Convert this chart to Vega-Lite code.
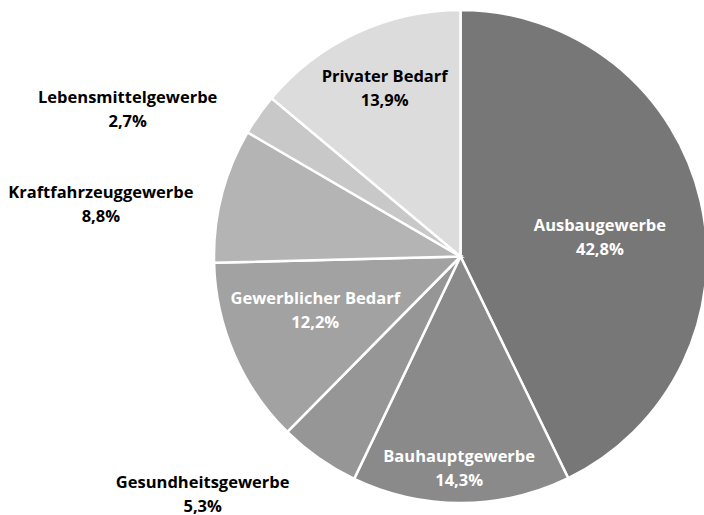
{
  "$schema": "https://vega.github.io/schema/vega-lite/v6.json",
  "width": 493,
  "height": 493,
  "autosize": "none",
  "padding": {"left": 214, "top": 10, "right": 0, "bottom": 12},
  "background": "white",
  "view": {"stroke": null},
  "data": {
    "values": [
      {"category": "Ausbaugewerbe", "value": 42.8, "label": "Ausbaugewerbe\n42,8%"},
      {"category": "Bauhauptgewerbe", "value": 14.3, "label": "Bauhauptgewerbe\n14,3%"},
      {"category": "Gesundheitsgewerbe", "value": 5.3, "label": "Gesundheitsgewerbe\n5,3%"},
      {"category": "Gewerblicher Bedarf", "value": 12.2, "label": "Gewerblicher Bedarf\n12,2%"},
      {"category": "Kraftfahrzeuggewerbe", "value": 8.8, "label": "Kraftfahrzeuggewerbe\n8,8%"},
      {"category": "Lebensmittelgewerbe", "value": 2.7, "label": "Lebensmittelgewerbe\n2,7%"},
      {"category": "Privater Bedarf", "value": 13.9, "label": "Privater Bedarf\n13,9%"}
    ]
  },
  "encoding": {
    "theta": {"field": "value", "type": "quantitative", "stack": true},
    "order": {"field": "category", "sort": "ascending"}
  },
  "layer": [
    {
      "mark": {"type": "arc", "stroke": "white", "strokeWidth": 2.5},
      "encoding": {
        "color": {
          "field": "category",
          "type": "nominal",
          "legend": null,
          "scale": {
            "domain": ["Ausbaugewerbe", "Bauhauptgewerbe", "Gesundheitsgewerbe", "Gewerblicher Bedarf", "Kraftfahrzeuggewerbe", "Lebensmittelgewerbe", "Privater Bedarf"],
            "range": ["#777777", "#8a8a8a", "#969696", "#a2a2a2", "#b4b4b4", "#c8c8c8", "#dcdcdc"]
          }
        }
      }
    },
    {
      "mark": {"type": "text", "radius": 141, "dx": 2, "dy": 1, "font": "Open Sans", "fontSize": 16.5, "fontWeight": "bold", "lineBreak": "\n", "lineHeight": 24, "color": "white"},
      "encoding": {"text": {"condition": {"test": "datum.category === 'Ausbaugewerbe'", "field": "label"}, "value": ""}}
    },
    {
      "mark": {"type": "text", "radius": 213, "dx": -2, "dy": -12, "font": "Open Sans", "fontSize": 16.5, "fontWeight": "bold", "lineBreak": "\n", "lineHeight": 24, "color": "white"},
      "encoding": {"text": {"condition": {"test": "datum.category === 'Bauhauptgewerbe'", "field": "label"}, "value": ""}}
    },
    {
      "mark": {"type": "text", "radius": 351, "dx": -56, "dy": -61, "font": "Open Sans", "fontSize": 16.5, "fontWeight": "bold", "lineBreak": "\n", "lineHeight": 24, "color": "black"},
      "encoding": {"text": {"condition": {"test": "datum.category === 'Gesundheitsgewerbe'", "field": "label"}, "value": ""}}
    },
    {
      "mark": {"type": "text", "radius": 155, "dx": -3, "dy": -19, "font": "Open Sans", "fontSize": 16.5, "fontWeight": "bold", "lineBreak": "\n", "lineHeight": 24, "color": "white"},
      "encoding": {"text": {"condition": {"test": "datum.category === 'Gewerblicher Bedarf'", "field": "label"}, "value": ""}}
    },
    {
      "mark": {"type": "text", "radius": 363, "dx": -8, "dy": 27, "font": "Open Sans", "fontSize": 16.5, "fontWeight": "bold", "lineBreak": "\n", "lineHeight": 24, "color": "black"},
      "encoding": {"text": {"condition": {"test": "datum.category === 'Kraftfahrzeuggewerbe'", "field": "label"}, "value": ""}}
    },
    {
      "mark": {"type": "text", "radius": 364, "dx": -35, "dy": 51, "font": "Open Sans", "fontSize": 16.5, "fontWeight": "bold", "lineBreak": "\n", "lineHeight": 24, "color": "black"},
      "encoding": {"text": {"condition": {"test": "datum.category === 'Lebensmittelgewerbe'", "field": "label"}, "value": ""}}
    },
    {
      "mark": {"type": "text", "radius": 184, "dx": 2, "dy": -13, "font": "Open Sans", "fontSize": 16.5, "fontWeight": "bold", "lineBreak": "\n", "lineHeight": 24, "color": "black"},
      "encoding": {"text": {"condition": {"test": "datum.category === 'Privater Bedarf'", "field": "label"}, "value": ""}}
    }
  ]
}
